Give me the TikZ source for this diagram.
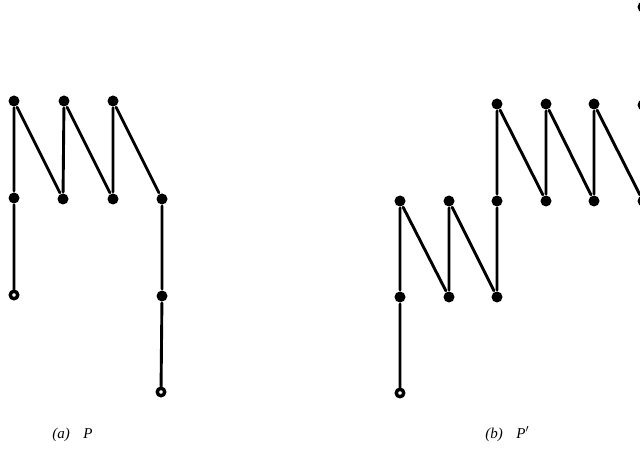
\documentclass[tikz,border=0pt]{standalone}
\usepackage{fontspec}
\setmainfont{Liberation Serif}

\tikzset{
  dot/.style={circle,fill=black,inner sep=0pt,minimum size=11pt},
  opendot/.style={circle,draw=black,fill=white,line width=3.4pt,inner sep=0pt,minimum size=7.5pt},
  capt/.style={anchor=base west,inner sep=0pt,font=\fontsize{15}{18}\selectfont\itshape}
}

\begin{document}
\begin{tikzpicture}[x=1pt,y=-1pt,line width=2.9pt,line cap=round,line join=round]
  \path[use as bounding box] (0,0) rectangle (640,454);

  % (a) P
  \node[dot] (a11) at (14,101) {};
  \node[dot] (a12) at (64,101) {};
  \node[dot] (a13) at (113,101) {};
  \node[dot] (a21) at (14,198) {};
  \node[dot] (a22) at (63,199) {};
  \node[dot] (a23) at (113,199) {};
  \node[dot] (a24) at (162,199) {};
  \node[opendot] (a31) at (14,295) {};
  \node[dot] (a34) at (162,296) {};
  \node[opendot] (a44) at (161,392) {};

  \draw (a31) -- (a21) -- (a11) -- (a22) -- (a12) -- (a23) -- (a13) -- (a24) -- (a34) -- (a44);

  % (b) P'
  \node[opendot] (b0) at (400,393) {};
  \node[dot] (b1) at (400,297) {};
  \node[dot] (b2) at (400,201) {};
  \node[dot] (b3) at (449,297) {};
  \node[dot] (b4) at (449,201) {};
  \node[dot] (b5) at (497,297) {};
  \node[dot] (b6) at (497,201) {};
  \node[dot] (b7) at (497,104) {};
  \node[dot] (b8) at (546,201) {};
  \node[dot] (b9) at (546,104) {};
  \node[dot] (b10) at (594,201) {};
  \node[dot] (b11) at (594,104) {};
  \node[dot] (b12) at (643,201) {};
  \node[dot] (b13) at (643,105) {};
  \node[dot] (b14) at (643,7) {};

  \draw (b0) -- (b1) -- (b2) -- (b3) -- (b4) -- (b5) -- (b6) -- (b7) -- (b8) -- (b9) -- (b10) -- (b11) -- (b12);

  \node[capt] (capa) at (51,438) {(a)\hspace{0.9em}P};
  \node[capt] (capb) at (484,438) {(b)\hspace{0.9em}P$'$};
\end{tikzpicture}
\end{document}
